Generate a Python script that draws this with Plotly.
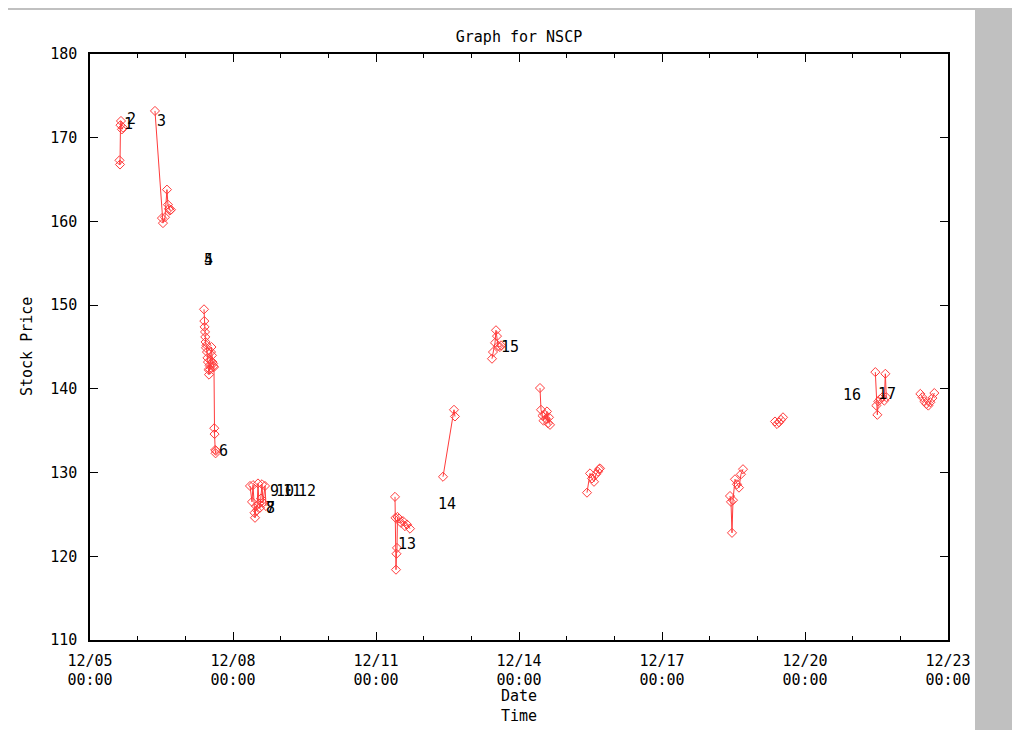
import plotly.graph_objects as go

# ---- data ----
# each trading session is a separate segment (gaps between days)
day_a_time = ["1998-12-05 14:51", "1998-12-05 15:06", "1998-12-05 15:21", "1998-12-05 15:36",
              "1998-12-05 16:06", "1998-12-05 16:37"]
day_a_price = [167.3, 166.8, 171.5, 172.0, 171.0, 171.2]

day_b_time = ["1998-12-06 08:43", "1998-12-06 12:14", "1998-12-06 12:44", "1998-12-06 13:45",
              "1998-12-06 14:45", "1998-12-06 15:15", "1998-12-06 15:45", "1998-12-06 16:16",
              "1998-12-06 16:46"]
day_b_price = [173.2, 160.4, 159.8, 160.5, 163.8, 162.0, 161.5, 161.3, 161.4]

day_c_time = ["1998-12-07 09:24", "1998-12-07 09:33", "1998-12-07 09:42", "1998-12-07 09:54",
              "1998-12-07 10:03", "1998-12-07 10:12", "1998-12-07 10:24", "1998-12-07 10:39",
              "1998-12-07 10:54", "1998-12-07 11:09", "1998-12-07 11:24", "1998-12-07 11:39",
              "1998-12-07 11:55", "1998-12-07 12:10", "1998-12-07 12:25", "1998-12-07 12:40",
              "1998-12-07 12:55", "1998-12-07 13:10", "1998-12-07 13:25", "1998-12-07 13:40",
              "1998-12-07 13:55", "1998-12-07 14:10", "1998-12-07 14:25", "1998-12-07 14:34",
              "1998-12-07 14:43", "1998-12-07 15:02", "1998-12-07 15:14", "1998-12-07 15:26"]
day_c_price = [149.5, 148.1, 147.4, 146.8, 146.2, 145.6, 144.9, 145.2, 144.4, 143.7,
               143.2, 142.3, 141.7, 142.8, 142.3, 143.4, 144.4, 145.0, 144.0, 143.2,
               143.0, 142.7, 142.6, 135.3, 134.6, 132.7, 132.3, 132.6]

day_d_time = ["1998-12-08 08:34", "1998-12-08 09:34", "1998-12-08 10:04", "1998-12-08 10:50",
              "1998-12-08 11:05", "1998-12-08 11:35", "1998-12-08 12:05", "1998-12-08 12:35",
              "1998-12-08 13:05", "1998-12-08 13:36", "1998-12-08 14:06", "1998-12-08 14:36",
              "1998-12-08 15:06", "1998-12-08 16:07", "1998-12-08 16:37"]
day_d_price = [128.4, 126.5, 128.5, 125.2, 124.6, 126.0, 125.5, 128.7, 126.3, 125.8,
               126.9, 128.6, 126.4, 128.4, 126.0]

day_e_time = ["1998-12-11 09:34", "1998-12-11 09:49", "1998-12-11 10:04", "1998-12-11 10:19",
              "1998-12-11 10:34", "1998-12-11 10:49", "1998-12-11 11:35", "1998-12-11 12:35",
              "1998-12-11 13:36", "1998-12-11 14:36", "1998-12-11 15:37", "1998-12-11 17:07"]
day_e_price = [127.1, 124.6, 118.4, 120.3, 121.0, 124.7, 124.5, 124.0, 124.2, 123.6, 123.8, 123.3]

day_f_time = ["1998-12-12 09:44", "1998-12-12 15:16", "1998-12-12 15:46"]
day_f_price = [129.5, 137.5, 136.7]

day_g_time = ["1998-12-13 10:24", "1998-12-13 10:54", "1998-12-13 11:55", "1998-12-13 12:25",
              "1998-12-13 12:55", "1998-12-13 13:26", "1998-12-13 14:26", "1998-12-13 14:56"]
day_g_price = [143.6, 144.4, 145.5, 147.0, 146.3, 145.1, 145.0, 145.2]

day_h_time = ["1998-12-14 10:34", "1998-12-14 11:05", "1998-12-14 11:50", "1998-12-14 12:20",
              "1998-12-14 13:05", "1998-12-14 13:36", "1998-12-14 14:06", "1998-12-14 14:36",
              "1998-12-14 15:06", "1998-12-14 15:37"]
day_h_price = [140.1, 137.5, 136.8, 136.2, 136.9, 136.4, 137.3, 135.9, 136.6, 135.7]

day_i_time = ["1998-12-15 10:14", "1998-12-15 11:45", "1998-12-15 12:45", "1998-12-15 13:46",
              "1998-12-15 14:46", "1998-12-15 15:47", "1998-12-15 16:17", "1998-12-15 16:47"]
day_i_price = [127.6, 129.9, 129.3, 128.9, 129.8, 130.1, 130.4, 130.5]

day_j_time = ["1998-12-18 10:14", "1998-12-18 10:44", "1998-12-18 11:15", "1998-12-18 11:45",
              "1998-12-18 12:45", "1998-12-18 13:46", "1998-12-18 14:46", "1998-12-18 15:46",
              "1998-12-18 16:47"]
day_j_price = [127.2, 126.5, 122.8, 126.7, 129.2, 128.6, 128.2, 129.8, 130.4]

day_k_time = ["1998-12-19 08:54", "1998-12-19 09:54", "1998-12-19 10:55", "1998-12-19 11:55",
              "1998-12-19 12:55"]
day_k_price = [136.1, 135.8, 136.0, 136.3, 136.6]

day_l_time = ["1998-12-21 11:25", "1998-12-21 11:55", "1998-12-21 12:25", "1998-12-21 12:55",
              "1998-12-21 13:56", "1998-12-21 14:56", "1998-12-21 15:56", "1998-12-21 16:27",
              "1998-12-21 16:57"]
day_l_price = [142.0, 138.0, 136.9, 138.5, 138.8, 139.0, 138.6, 141.8, 139.0]

day_m_time = ["1998-12-22 10:04", "1998-12-22 11:05", "1998-12-22 12:05", "1998-12-22 13:05",
              "1998-12-22 14:06", "1998-12-22 15:06", "1998-12-22 16:07", "1998-12-22 17:07"]
day_m_price = [139.4, 139.0, 138.5, 138.2, 138.0, 138.4, 138.9, 139.5]

# event labels
label_text = ["1", "2", "3", "4", "5", "6", "7", "8", "9", "10", "11", "12",
              "13", "14", "15", "16", "17"]
label_time = ["1998-12-05 16:07", "1998-12-05 17:37", "1998-12-06 08:44", "1998-12-07 08:23",
              "1998-12-07 08:23", "1998-12-07 15:57", "1998-12-08 15:37", "1998-12-08 15:37",
              "1998-12-08 17:37", "1998-12-08 20:38", "1998-12-09 00:10", "1998-12-09 07:43",
              "1998-12-11 10:04", "1998-12-12 06:13", "1998-12-13 13:56", "1998-12-20 18:08",
              "1998-12-21 11:45"]
label_price = [171.6, 172.2, 172.0, 155.4, 155.4, 132.6, 125.8, 125.8, 127.8, 127.8, 127.8,
               127.8, 121.5, 126.2, 145.0, 139.3, 139.4]

x_tick_vals = ["1998-12-05", "1998-12-08", "1998-12-11", "1998-12-14", "1998-12-17",
               "1998-12-20", "1998-12-23"]
x_tick_text = ["12/05<br>00:00", "12/08<br>00:00", "12/11<br>00:00", "12/14<br>00:00",
               "12/17<br>00:00", "12/20<br>00:00", "12/23<br>00:00"]
y_tick_vals = [110, 120, 130, 140, 150, 160, 170, 180]

# ---- build the gapped series ----
segments = [
    (day_a_time, day_a_price), (day_b_time, day_b_price), (day_c_time, day_c_price),
    (day_d_time, day_d_price), (day_e_time, day_e_price), (day_f_time, day_f_price),
    (day_g_time, day_g_price), (day_h_time, day_h_price), (day_i_time, day_i_price),
    (day_j_time, day_j_price), (day_k_time, day_k_price), (day_l_time, day_l_price),
    (day_m_time, day_m_price),
]
xs, ys = [], []
for t, p in segments:
    xs.extend(t + [None])
    ys.extend(p + [None])

FONT = "DejaVu Sans Mono"
RED = "#ff3b3b"

# The page places the figure 8px in from the top-left corner (body margin),
# so the figure is laid out in screen pixels minus that offset.
OFF = 8
W, H = 1020 - OFF, 730 - OFF
L, R, T, B = 90 - OFF, 948 - OFF, 54 - OFF, 640 - OFF
pw, ph = R - L, B - T


def px_x(p):  # screen px -> paper x
    return (p - OFF - L) / pw


def px_y(p):  # screen px -> paper y
    return (B - (p - OFF)) / ph


fig = go.Figure()
fig.add_trace(go.Scatter(
    x=xs, y=ys, mode="lines+markers", connectgaps=False,
    line=dict(color=RED, width=1),
    marker=dict(symbol="diamond-open", size=7, color=RED, line=dict(width=1, color=RED)),
    showlegend=False, hoverinfo="x+y",
))

annotations = []
for txt, t, p in zip(label_text, label_time, label_price):
    annotations.append(dict(x=t, y=p, xref="x", yref="y", text=txt, showarrow=False,
                            xanchor="left", yanchor="middle",
                            font=dict(family=FONT, size=15, color="black")))

annotations.append(dict(x=px_x(27), y=0.5, xref="paper", yref="paper", text="Stock Price",
                        textangle=-90, showarrow=False, xanchor="center", yanchor="middle",
                        font=dict(family=FONT, size=15, color="black")))
annotations.append(dict(x=0.5, y=px_y(706), xref="paper", yref="paper", text="Date<br>Time",
                        showarrow=False, xanchor="center", yanchor="middle",
                        font=dict(family=FONT, size=15, color="black")))

shapes = [dict(type="rect", xref="paper", yref="paper", layer="below",
               x0=px_x(8), x1=px_x(975), y0=px_y(740), y1=px_y(10),
               fillcolor="white", line=dict(width=0))]

fig.update_layout(
    width=W, height=H,
    margin=dict(l=L, r=W - R, t=T, b=H - B, pad=0),
    paper_bgcolor="#c0c0c0", plot_bgcolor="white",
    title=dict(text="Graph for NSCP", x=0.5, xref="paper", y=1 - (37 - OFF) / H,
               yref="container", xanchor="center", yanchor="middle",
               font=dict(family=FONT, size=15, color="black")),
    annotations=annotations, shapes=shapes,
    xaxis=dict(
        type="date", range=["1998-12-05", "1998-12-23"],
        tickmode="array", tickvals=x_tick_vals, ticktext=x_tick_text,
        ticks="inside", ticklen=8, tickwidth=1, tickcolor="black",
        minor=dict(dtick=86400000, ticks="inside", ticklen=4, tickwidth=1, tickcolor="black",
                   showgrid=False),
        showline=True, linecolor="black", linewidth=1.5, mirror="ticks",
        showgrid=False, zeroline=False, ticklabelstandoff=6,
        tickfont=dict(family=FONT, size=15, color="black"),
    ),
    yaxis=dict(
        range=[110, 180], tickmode="array", tickvals=y_tick_vals,
        ticks="inside", ticklen=8, tickwidth=1, tickcolor="black",
        showline=True, linecolor="black", linewidth=1.5, mirror="ticks",
        showgrid=False, zeroline=False, ticklabelstandoff=8,
        tickfont=dict(family=FONT, size=15, color="black"),
    ),
)

fig.write_html("out.html")
